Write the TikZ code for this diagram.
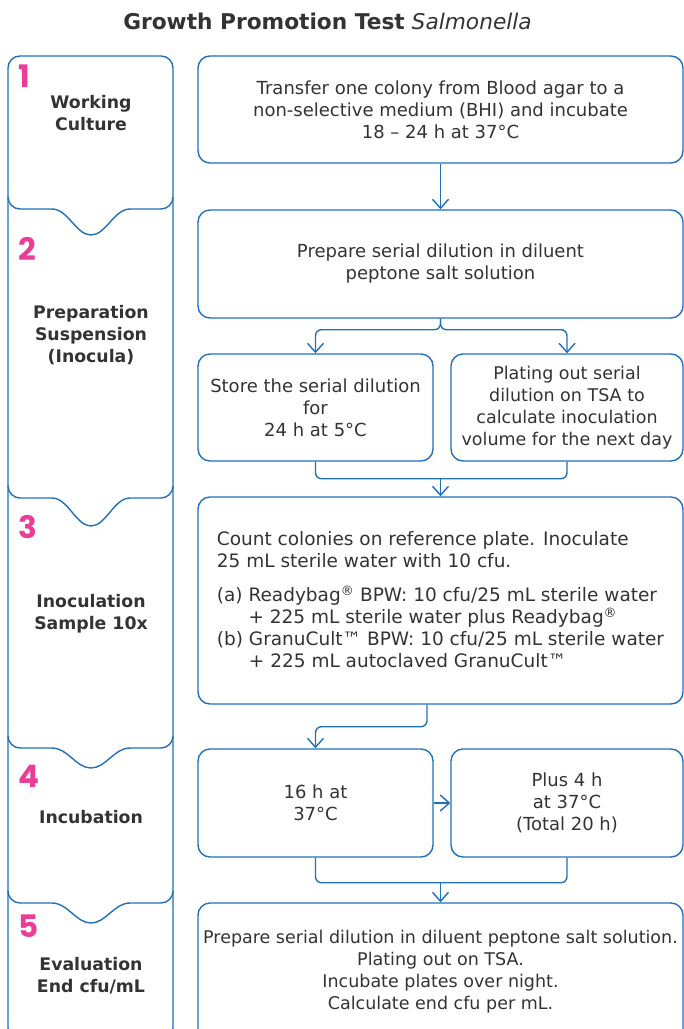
\documentclass[tikz,border=0pt]{standalone}
\usepackage{fontspec}
\usetikzlibrary{arrows.meta,calc}
\newfontfamily\vf{DejaVu Sans}
\newfontfamily\numfont{Poppins}[BoldFont=* Bold]
\definecolor{blu}{HTML}{2070BA}
\definecolor{pnk}{HTML}{EB3C96}
\definecolor{txt}{HTML}{333333}
\tikzset{
  box/.style={draw=blu, line width=1.4pt, rounded corners=12pt, align=center, inner sep=0pt,
    text=txt, font=\vf\fontsize{18}{22}\selectfont},
  small/.style={font=\vf\fontsize{17.5}{22}\selectfont},
  lbl/.style={align=center, inner sep=0pt, text=txt, font=\vf\bfseries\fontsize{17.3}{22}\selectfont},
  num/.style={anchor=west, inner sep=0pt, text=pnk, font=\numfont\bfseries\fontsize{31}{31}\selectfont},
  conn/.style={draw=blu, line width=1.4pt, rounded corners=6pt},
  arr/.style={conn, -{Straight Barb[length=9pt,width=16pt,line width=1.4pt]}},
  frame/.style={draw=blu, line width=1.4pt}
}
\begin{document}
\begin{tikzpicture}[x=1pt,y=-1pt]
\useasboundingbox (0,0) rectangle (684,1029);
\clip (0,0) rectangle (684,1029);
% title
\node[text=txt, inner sep=0pt, font=\vf\fontsize{21.7}{24}\selectfont] (title) at (327.5,21)
  {\textbf{Growth Promotion Test} \textit{Salmonella}};
% left column frame
\draw[frame, rounded corners=12pt] (8,1040) -- (8,56) -- (173,56) -- (173,1040) -- cycle;
\foreach \d/\dep in {209/26, 498/28, 748/20, 903/20}{
  \draw[frame] (8,\d-12) .. controls (8,\d-5.4) and (13.4,\d) .. (20,\d) -- (52,\d)
    .. controls (68,\d) and (76,\d+\dep) .. (91,\d+\dep)
    .. controls (106,\d+\dep) and (114,\d) .. (130,\d) -- (161,\d)
    .. controls (167.6,\d) and (173,\d-5.4) .. (173,\d-12);
}
% step numbers
\node[num] (n1) at (18,76) {1};
\node[num] (n2) at (18,249) {2};
\node[num] (n3) at (18,527) {3};
\node[num] (n4) at (18,776) {4};
\node[num] (n5) at (18,926) {5};
% step labels
\node[lbl] (l1) at (91,113) {Working\\Culture};
\node[lbl] (l2) at (91,335) {Preparation\\Suspension\\(Inocula)};
\node[lbl] (l3) at (91,614) {Inoculation\\Sample 10x};
\node[lbl] (l4) at (91,817) {Incubation};
\node[lbl] (l5) at (91,976) {Evaluation\\End cfu/mL};
% right boxes
\node[box, minimum width=485pt, minimum height=107pt] (A) at (440.5,109.5)
  {Transfer one colony from Blood agar to a\\non-selective medium (BHI) and incubate\\18 – 24 h at 37°C};
\node[box, minimum width=485pt, minimum height=108pt] (B) at (440.5,264)
  {Prepare serial dilution in diluent\\peptone salt solution};
\node[box, minimum width=235pt, minimum height=107pt] (C) at (315.5,407.5)
  {Store the serial dilution\\for\\24 h at 5°C};
\node[box, small, minimum width=232pt, minimum height=107pt] (D) at (567,407.5)
  {Plating out serial\\dilution on TSA to\\calculate inoculation\\volume for the next day};
\node[box, align=left, font=\vf\fontsize{18.5}{22}\selectfont, minimum width=485pt, minimum height=207pt] (E) at (440.5,600.5)
  {Count colonies on reference plate. Inoculate\\25 mL sterile water with 10 cfu.\\[12pt]
   (a) Readybag\textsuperscript{®} BPW: 10 cfu/25 mL sterile water\\
   \phantom{(a) }+ 225 mL sterile water plus Readybag\textsuperscript{®}\\
   (b) GranuCult™ BPW: 10 cfu/25 mL sterile water\\
   \phantom{(b) }+ 225 mL autoclaved GranuCult™};
\node[box, minimum width=235pt, minimum height=108pt] (F) at (315.5,803)
  {16 h at\\37°C};
\node[box, minimum width=232pt, minimum height=108pt] (G) at (567,803)
  {Plus 4 h\\at 37°C\\(Total 20 h)};
\node[box, small, minimum width=485pt, minimum height=138pt] (H) at (440.5,972)
  {Prepare serial dilution in diluent peptone salt solution.\\Plating out on TSA.\\Incubate plates over night.\\Calculate end cfu per mL.};
% connectors
\draw[arr] (A) -- (B);
\draw[arr] (B.south) -- ++(0,11) -| (C.north);
\draw[arr] (B.south) -- ++(0,11) -| (D.north);
\draw[conn] (C.south) -- ++(0,17) -| (D.south);
\coordinate (j1) at (440.5,478);
\draw[arr] (j1) -- (E.north);
\draw[arr] ([xshift=-13.5pt]E.south) -- ++(0,22) -| (F.north);
\draw[arr] (F.east) -- (G.west);
\draw[conn] (F.south) -- ++(0,25) -| (G.south);
\coordinate (j2) at (440.5,882);
\draw[arr] (j2) -- (H.north);
\end{tikzpicture}
\end{document}
